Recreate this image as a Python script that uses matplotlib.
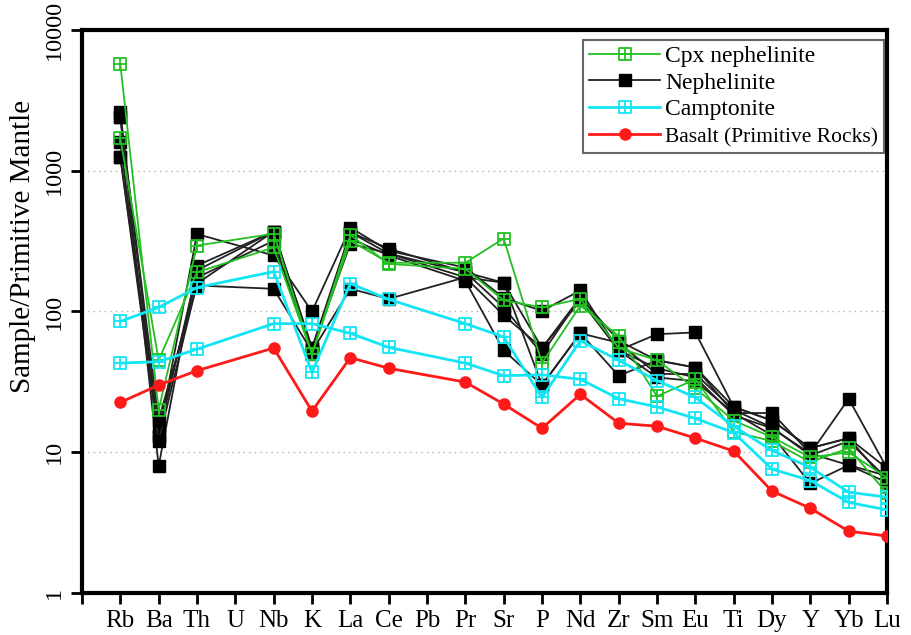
import numpy as np
import matplotlib
matplotlib.use("Agg")
import matplotlib.pyplot as plt
from matplotlib.path import Path

plt.rcParams["font.family"] = ["Liberation Serif", "DejaVu Serif"]

ELEMENTS = ["Rb", "Ba", "Th", "U", "Nb", "K", "La", "Ce", "Pb", "Pr", "Sr",
            "P", "Nd", "Zr", "Sm", "Eu", "Ti", "Dy", "Y", "Yb", "Lu"]

N = None  # U et Pb non analyses

# Cpx nephelinite (2 echantillons)
cpx_neph = [
    [5700, 20, 294, N, 357, 50, 318, 222, N, 222, 330, 43, 110, 67, 25, 33, 14, 12, 8.5, 10.7, 5.1],
    [1700, 45, 190, N, 285, 50, 350, 218, N, 201, 120, 107, 123, 55, 45, 28.5, 16.8, 12.8, 9.2, 10, 6.6],
]

# Nephelinite (6 echantillons)
nephelinite = [
    [2600, 13, 355, N, 250, 100, 395, 270, N, 205, 125, 101, 141, 53, 69, 71, 21, 16.8, 10.7, 12.6, 6.1],
    [2400, 8, 212, N, 370, 55, 365, 280, N, 190, 160, 55, 126, 62, 45, 40, 19, 19, 9.8, 24, 7.7],
    [1600, 13, 196, N, 370, 53, 303, 258, N, 190, 107, 50, 126, 53, 39.5, 34, 18.3, 14.8, 9.8, 8.1, 6.1],
    [1250, 15, 174, N, 318, 50, 365, 258, N, 175, 94, 55, 120, 53, 34, 32, 19, 13.2, 6.0, 8.1, 6.8],
    [1250, 12, 158, N, 370, 55, 330, 250, N, 165, 53, 30, 70, 35, 45, 40, 21, 16.8, 10.7, 12.6, 7.7],
    [2400, 17, 153, N, 145, 52, 145, 123, N, 175, 160, 30, 70, 60, 36, 36, 20, 15, 9.5, 12, 6.5],
]

# Camptonite (2 echantillons)
camptonite = [
    [85, 107, 148, N, 192, 37, 158, 122, N, 82, 66, 24.5, 62, 45, 32.3, 24.5, 15.3, 10.3, 7.8, 5.2, 4.8],
    [43, 44, 54, N, 82, 82, 70, 55.6, N, 43, 35, 35.5, 33, 24, 21, 17.4, 13.8, 7.6, 6.3, 4.4, 3.9],
]

# Basalt (Primitive Rocks)
basalt = [22.6, 30, 38, N, 55, 19.6, 47, 39.5, N, 31.5, 22, 14.8, 25.8, 16.1, 15.3, 12.6, 10.2, 5.3, 4.0, 2.75, 2.54]

# marqueur carre barre d'une croix (comme dans la figure)
BOXCROSS = Path(
    [(-1, -1), (1, -1), (1, 1), (-1, 1), (-1, -1),
     (0, -1), (0, 1), (-1, 0), (1, 0)],
    [Path.MOVETO, Path.LINETO, Path.LINETO, Path.LINETO, Path.CLOSEPOLY,
     Path.MOVETO, Path.LINETO, Path.MOVETO, Path.LINETO])


def trace(ax, valeurs, **kw):
    x = [i for i, v in enumerate(valeurs) if v is not None]
    y = [v for v in valeurs if v is not None]
    return ax.plot(x, y, **kw)[0]


fig = plt.figure(figsize=(9.12, 6.35), dpi=100)
ax = fig.add_axes([0.0899, 0.0661, 0.8827, 0.8867])

for s in nephelinite:
    h_neph = trace(ax, s, color="#222222", lw=1.3, marker="s", ms=8.5,
                   mfc="black", mec="black", zorder=3)
for s in cpx_neph:
    h_cpx = trace(ax, s, color="#22c022", lw=1.3, marker=BOXCROSS, ms=9,
                  mfc="none", mec="#22c022", mew=1.3, zorder=4)
for s in camptonite:
    h_camp = trace(ax, s, color="#12e6f5", lw=2.0, marker=BOXCROSS, ms=9,
                   mfc="none", mec="#12e6f5", mew=1.3, zorder=5)
h_bas = trace(ax, basalt, color="#ff1a1a", lw=2.0, marker="o", ms=8,
              mfc="#ff1a1a", mec="#ff1a1a", zorder=6)

ax.set_yscale("log")
ax.set_ylim(1, 10000)
ax.set_xlim(-1, len(ELEMENTS) - 1)
ax.set_xticks(range(-1, len(ELEMENTS)))
ax.set_xticklabels([""] + ELEMENTS, fontsize=18)
ax.set_yticks([1, 10, 100, 1000, 10000])
ax.set_yticklabels(["1", "10", "100", "1000", "10000"], fontsize=17.5,
                   rotation=90, va="center")
ax.minorticks_off()
ax.tick_params(direction="out", length=8, width=2, pad=4)
ax.yaxis.grid(True, linestyle=(0, (1, 3)), color="#b0b0b0", lw=1.0)
for sp in ax.spines.values():
    sp.set_linewidth(3)
ax.set_ylabel("Sample/Primitive Mantle", fontsize=21)
ax.yaxis.set_label_coords(-0.057, 0.615)

leg = ax.legend([h_cpx, h_neph, h_camp, h_bas],
                ["Cpx nephelinite", "Nephelinite", "Camptonite",
                 "Basalt (Primitive Rocks)"],
                loc="upper right", bbox_to_anchor=(0.996, 0.983),
                fontsize=17, fancybox=False, framealpha=1, edgecolor="#666666",
                handlelength=3.0, handletextpad=0.2, labelspacing=0.22,
                borderpad=0.25, borderaxespad=0.0)
leg.get_frame().set_linewidth(1.5)
leg.get_texts()[3].set_fontsize(15.5)

fig.savefig("out.png", dpi=100)
